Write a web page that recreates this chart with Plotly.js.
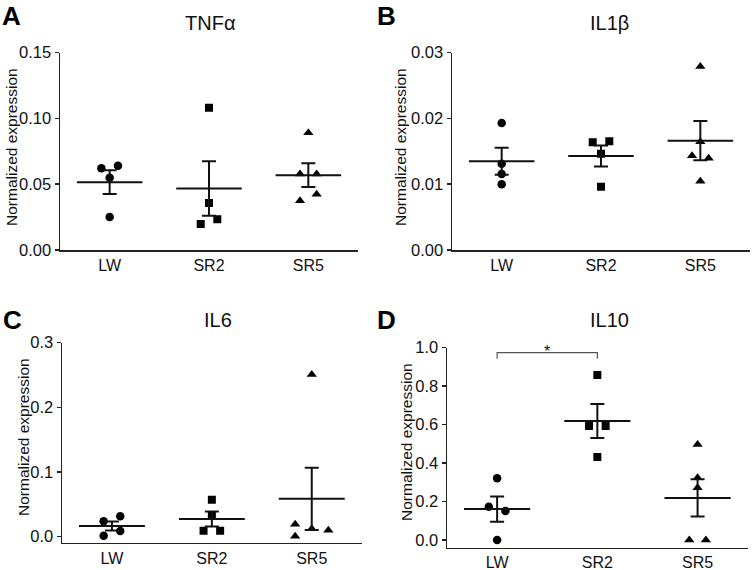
<!DOCTYPE html>
<html>
<head>
<meta charset="utf-8">
<script src="https://cdn.plot.ly/plotly-3.0.1.min.js"></script>
<style>
  html, body { margin: 0; padding: 0; background: #fff; }
  #graph { width: 752px; height: 570px; }
</style>
</head>
<body>
<div id="graph"></div>
<script>
// Groups on every x axis
const groups = ['LW', 'SR2', 'SR5'];

// Panel A - TNFa
const tnfLW = [0.055, 0.0621, 0.0641, 0.0251];
const tnfSR2 = [0.0198, 0.0233, 0.0357, 0.1082];
const tnfSR5 = [0.0375, 0.0423, 0.0578, 0.0578, 0.0892];

// Panel B - IL1b
const il1LW = [0.01931, 0.01313, 0.01155, 0.00998];
const il1SR2 = [0.01637, 0.01652, 0.01465, 0.00963];
const il1SR5 = [0.01434, 0.01394, 0.02792, 0.01647, 0.01044];

// Panel C - IL6
const il6LW = [0.001, 0.0083, 0.0235, 0.031];
const il6SR2 = [0.0088, 0.0088, 0.033, 0.0568];
const il6SR5 = [0.0, 0.0093, 0.0186, 0.0119, 0.2509];

// Panel D - IL10
const il10LW = [0.3206, 0.1733, 0.1508, 0.0];
const il10SR2 = [0.858, 0.593, 0.593, 0.4315];
const il10SR5 = [0.497, 0.324, 0.272, 0.0, 0.0];

const W = 752, H = 570;
const FONT = '"Liberation Sans", Arial, Helvetica, sans-serif';
const symbols = ['circle', 'square', 'triangle-up'];
const sizes = [8.5, 8, 9];

// panel boxes in pixels (left, right, top of range, bottom of range)
const panels = [
    { title: 'TNF\u03b1', letter: 'A', sets: [tnfLW, tnfSR2, tnfSR5], px: [60, 358, 52.7, 250], range: [0, 0.15], dtick: 0.05, fmt: '.2f',
      titlePos: [210, 23], letterPos: [1, 0], ytitlePos: [11, 147] },
    { title: 'IL1\u03b2', letter: 'B', sets: [il1LW, il1SR2, il1SR5], px: [452, 750, 52.7, 250], range: [0, 0.03], dtick: 0.01, fmt: '.2f',
      titlePos: [609, 23], letterPos: [376, 0], ytitlePos: [400, 147] },
    { title: 'IL6', letter: 'C', sets: [il6LW, il6SR2, il6SR5], px: [62, 361.7, 342.7, 542.8], range: [-0.01, 0.3], dtick: 0.1, fmt: '.1f',
      titlePos: [218, 320], letterPos: [2, 304], ytitlePos: [23, 437] },
    { title: 'IL10', letter: 'D', sets: [il10LW, il10SR2, il10SR5], px: [447, 747.7, 347.7, 547.7], range: [-0.04, 1.0], dtick: 0.2, fmt: '.1f',
      titlePos: [609, 320], letterPos: [376, 304], ytitlePos: [406, 442] }
];

function mean(a) { return a.reduce((s, v) => s + v, 0) / a.length; }
function sem(a) {
    const m = mean(a);
    const ss = a.reduce((s, v) => s + (v - m) * (v - m), 0);
    return Math.sqrt(ss / (a.length - 1)) / Math.sqrt(a.length);
}

// spread points that sit too close together sideways (like a column scatter)
function dodge(values, pxPerUnit, step) {
    const order = values.map((v, i) => i).sort((a, b) => values[a] - values[b] || a - b);
    const clusters = [];
    let cur = [order[0]];
    for (let k = 1; k < order.length; k++) {
        const gap = (values[order[k]] - values[order[k - 1]]) * pxPerUnit;
        if (gap < 9.5) cur.push(order[k]);
        else { clusters.push(cur); cur = [order[k]]; }
    }
    clusters.push(cur);
    const off = new Array(values.length).fill(0);
    clusters.forEach(c => {
        c.sort((a, b) => a - b); // keep data order inside a row
        let slots;
        if (c.length % 2) slots = [0, -1, 1, -2, 2, -3, 3];
        else if (c.length === 2) slots = [-1, 1];
        else slots = [-2, 2, -2, 0, 2, 0]; // wide rows stack in three columns
        c.forEach((idx, j) => { off[idx] = slots[j] * step; });
    });
    return off;
}

const data = [];
const layout = {
    width: W, height: H,
    margin: { l: 0, r: 0, t: 0, b: 0 },
    paper_bgcolor: '#fff', plot_bgcolor: '#fff',
    showlegend: false,
    font: { family: FONT, color: '#111' },
    annotations: [],
    shapes: []
};

panels.forEach((p, n) => {
    const id = n === 0 ? '' : String(n + 1);
    const xa = 'x' + id, ya = 'y' + id;
    const [l, r, t, b] = p.px;
    const pxPerUnit = (b - t) / (p.range[1] - p.range[0]);
    const catPx = (r - l) / 3;

    layout['xaxis' + id] = {
        domain: [l / W, r / W], range: [-0.5, 2.5], anchor: ya,
        tickvals: [0, 1, 2], ticktext: groups, ticks: '',
        showline: true, linecolor: '#222', linewidth: 1.5,
        showgrid: false, zeroline: false, fixedrange: true,
        tickfont: { size: 16, family: FONT, color: '#111' }
    };
    layout['yaxis' + id] = {
        domain: [1 - b / H, 1 - t / H], range: p.range, anchor: xa,
        tick0: 0, dtick: p.dtick, tickformat: p.fmt,
        ticks: 'outside', ticklen: 4, tickwidth: 1.5, tickcolor: '#222',
        showline: true, linecolor: '#222', linewidth: 1.5,
        showgrid: false, zeroline: false, fixedrange: true,
        tickfont: { size: 16.5, family: FONT, color: '#111' }
    };

    p.sets.forEach((vals, g) => {
        const off = dodge(vals, pxPerUnit, 8.3 / catPx);
        data.push({
            type: 'scatter', mode: 'markers', xaxis: xa, yaxis: ya,
            x: vals.map((v, i) => g + off[i]), y: vals,
            marker: { symbol: symbols[g], size: sizes[g], color: '#000' },
            hoverinfo: 'skip'
        });
        const m = mean(vals);
        // mean line
        data.push({
            type: 'scatter', mode: 'lines', xaxis: xa, yaxis: ya,
            x: [g - 0.33, g + 0.33], y: [m, m],
            line: { color: '#111', width: 2 }, hoverinfo: 'skip'
        });
        // SEM whiskers
        data.push({
            type: 'scatter', mode: 'markers', xaxis: xa, yaxis: ya,
            x: [g], y: [m],
            marker: { size: 1, color: 'rgba(0,0,0,0)' },
            error_y: { type: 'data', array: [sem(vals)], visible: true, color: '#111', thickness: 2, width: 7 },
            hoverinfo: 'skip'
        });
    });

    // panel title, letter and y title
    layout.annotations.push({
        xref: 'paper', yref: 'paper', x: p.titlePos[0] / W, y: 1 - p.titlePos[1] / H,
        xanchor: 'center', yanchor: 'middle', showarrow: false,
        text: p.title, font: { size: 20, family: FONT, color: '#111' }
    });
    layout.annotations.push({
        xref: 'paper', yref: 'paper', x: p.letterPos[0] / W, y: 1 - p.letterPos[1] / H,
        xanchor: 'left', yanchor: 'top', showarrow: false, borderpad: 0,
        text: '<b>' + p.letter + '</b>', font: { size: 26, family: FONT, color: '#000' }
    });
    layout.annotations.push({
        xref: 'paper', yref: 'paper', x: p.ytitlePos[0] / W, y: 1 - p.ytitlePos[1] / H,
        xanchor: 'center', yanchor: 'middle', showarrow: false, textangle: -90,
        text: 'Normalized expression', font: { size: 15.5, family: FONT, color: '#111' }
    });
});

// significance bracket LW vs SR2 in panel D
const brY = 0.974, brLeg = 0.943;
layout.shapes.push({
    type: 'path', xref: 'x4', yref: 'y4',
    path: `M 0 ${brLeg} L 0 ${brY} L 1 ${brY} L 1 ${brLeg}`,
    line: { color: '#555', width: 1.2 }
});
layout.annotations.push({
    xref: 'x4', yref: 'y4', x: 0.5, y: brY,
    xanchor: 'center', yanchor: 'bottom', showarrow: false, yshift: -9,
    text: '*', font: { size: 16, family: FONT, color: '#111' }
});

Plotly.newPlot('graph', data, layout, { staticPlot: true });
</script>
</body>
</html>
